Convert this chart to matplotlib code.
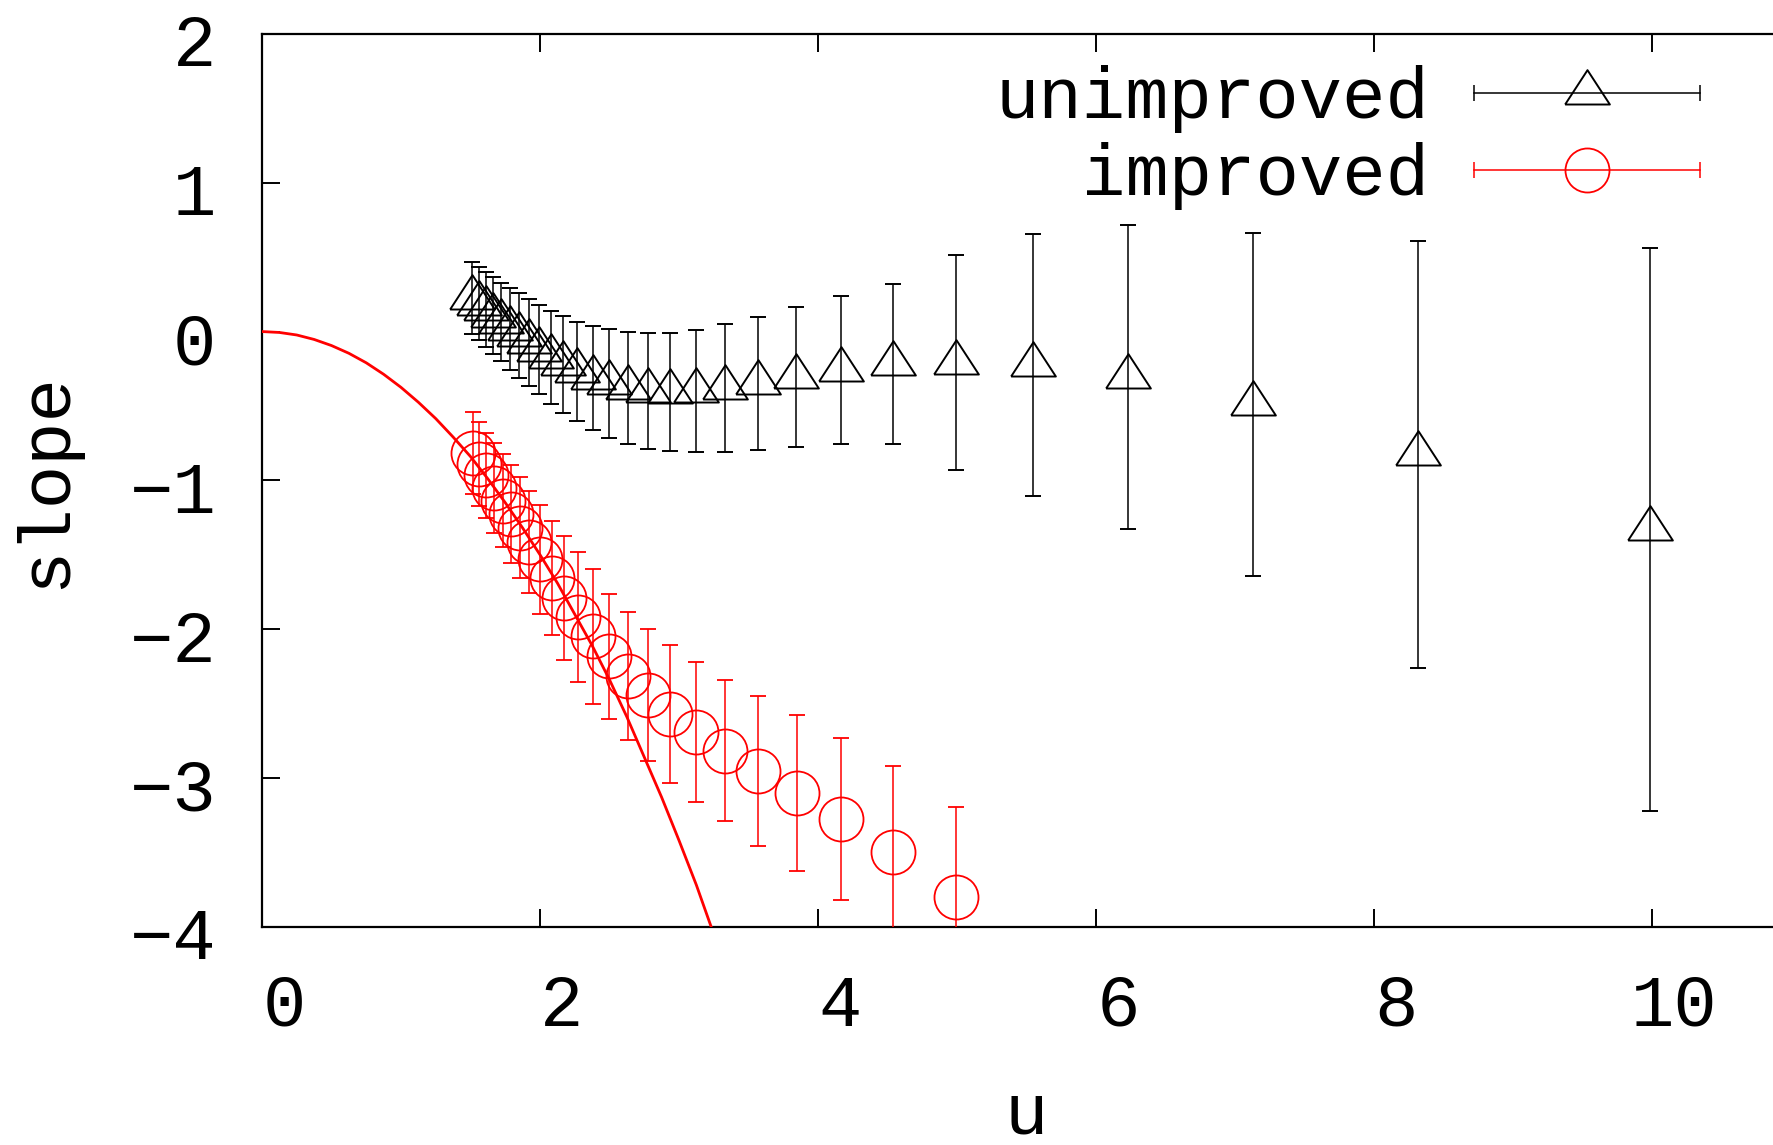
import matplotlib
matplotlib.use("Agg")
import matplotlib.pyplot as plt
import matplotlib.transforms as mtransforms
from matplotlib.lines import Line2D
from matplotlib.legend_handler import HandlerBase

# unimproved (black triangles)
u_unimp = [1.513, 1.560, 1.608, 1.660, 1.721, 1.787, 1.852, 1.924, 1.996, 2.080,
           2.168, 2.263, 2.383, 2.498, 2.630, 2.778, 2.936, 3.123, 3.331, 3.566,
           3.844, 4.162, 4.539, 4.991, 5.549, 6.233, 7.127, 8.320, 9.985]
s_unimp = [0.224, 0.187, 0.150, 0.107, 0.065, 0.016, -0.026, -0.073, -0.122, -0.173,
           -0.221, -0.268, -0.312, -0.349, -0.380, -0.399, -0.406, -0.401, -0.380, -0.347,
           -0.305, -0.258, -0.218, -0.209, -0.224, -0.307, -0.490, -0.825, -1.330]
e_unimp = [0.241, 0.245, 0.252, 0.258, 0.262, 0.275, 0.284, 0.293, 0.300, 0.314,
           0.326, 0.335, 0.347, 0.364, 0.376, 0.388, 0.397, 0.410, 0.429, 0.448,
           0.472, 0.499, 0.536, 0.722, 0.878, 1.023, 1.152, 1.433, 1.893]

# improved (red circles)
u_imp = [1.517, 1.560, 1.613, 1.668, 1.732, 1.793, 1.859, 1.924, 2.003, 2.087,
         2.175, 2.271, 2.378, 2.497, 2.635, 2.776, 2.936, 3.123, 3.329, 3.568,
         3.846, 4.162, 4.537, 4.994]
s_imp = [-0.817, -0.888, -0.966, -1.051, -1.136, -1.226, -1.319, -1.414, -1.531, -1.655,
         -1.789, -1.920, -2.048, -2.183, -2.315, -2.441, -2.570, -2.691, -2.816, -2.953,
         -3.101, -3.276, -3.499, -3.802]
e_imp = [0.274, 0.282, 0.287, 0.300, 0.314, 0.331, 0.339, 0.343, 0.364, 0.384,
         0.418, 0.437, 0.455, 0.420, 0.430, 0.443, 0.462, 0.473, 0.475, 0.506,
         0.522, 0.546, 0.578, 0.607]

# red solid curve
curve_u = [0.0, 0.125, 0.25, 0.375, 0.5, 0.625, 0.75, 0.875, 1.0, 1.125, 1.25, 1.375,
           1.5, 1.625, 1.75, 1.875, 2.0, 2.125, 2.25, 2.375, 2.5, 2.625, 2.75, 2.875,
           3.0, 3.125, 3.25, 3.35]
curve_s = [0.0, -0.006, -0.023, -0.053, -0.094, -0.146, -0.21, -0.287, -0.375, -0.475,
           -0.585, -0.709, -0.84, -0.99, -1.15, -1.32, -1.50, -1.69, -1.90, -2.11,
           -2.34, -2.59, -2.86, -3.13, -3.42, -3.72, -4.05, -4.30]

xticks = [0, 2, 4, 6, 8, 10]
yticks = [-4, -3, -2, -1, 0, 1, 2]

plt.rcParams['font.family'] = ['Liberation Mono', 'DejaVu Sans']
FS = 52

# gnuplot style triangle, centre below the apex
tri = [(-0.959, -0.472), (0.959, -0.472), (0.0, 1.0), (-0.959, -0.472)]


class GnuKey(HandlerBase):
    # horizontal bar with end caps and the point in the middle
    def create_artists(self, legend, orig_handle, xdescent, ydescent,
                       width, height, fontsize, trans):
        y = height / 2 - ydescent
        x0, x1 = -xdescent, width - xdescent
        c = orig_handle.get_color()
        bar = Line2D([x0, x1], [y, y], color=c, lw=1.1)
        caps = Line2D([x0, x1], [y, y], ls='none', marker='|', ms=12, mew=1.1, color=c)
        mk = Line2D([(x0 + x1) / 2], [y], ls='none', marker=orig_handle.get_marker(),
                    ms=orig_handle.get_markersize(), mfc='none', mec=c,
                    mew=orig_handle.get_markeredgewidth())
        for a in (bar, caps, mk):
            a.set_transform(trans)
        return [bar, caps, mk]


fig = plt.figure(figsize=(17.74, 11.45), dpi=100)
ax = fig.add_axes([262 / 1774, 218.3 / 1145, 1529 / 1774, 892.7 / 1145])

ax.errorbar(u_unimp, s_unimp, yerr=e_unimp, ls='none', marker=tri, ms=33.6,
            mfc='none', mec='black', mew=1.4, ecolor='black', elinewidth=1.1,
            capsize=6, capthick=1.1, zorder=3)
ax.errorbar(u_imp, s_imp, yerr=e_imp, ls='none', marker='o', ms=31.7,
            mfc='none', mec='red', mew=1.3, ecolor='red', elinewidth=1.1,
            capsize=6, capthick=1.1, zorder=3)
ax.plot(curve_u, curve_s, color='red', lw=2.0, zorder=4)

ax.set_xlim(0, 11)
ax.set_ylim(-4, 2)
ax.set_xticks(xticks)
ax.set_yticks(yticks)
ax.tick_params(which='both', direction='in', top=True, right=True,
               length=13, width=1.4, labelsize=FS, pad=33)
for sp in ax.spines.values():
    sp.set_linewidth(1.6)

dx = mtransforms.ScaledTranslation(0.22, 0, fig.dpi_scale_trans)
for t in ax.xaxis.get_major_ticks():
    t.label1.set_transform(t.label1.get_transform() + dx)
dy = mtransforms.ScaledTranslation(0, -0.06, fig.dpi_scale_trans)
for t in ax.yaxis.get_major_ticks():
    t.label1.set_transform(t.label1.get_transform() + dy)

ax.set_xlabel('u', fontsize=FS)
ax.set_ylabel('slope', fontsize=FS)
ax.xaxis.set_label_coords(0.5, -0.172)
ax.yaxis.set_label_coords(-0.119, 0.5)

h1 = Line2D([], [], color='black', marker=tri, ms=33.6, mew=1.4)
h2 = Line2D([], [], color='red', marker='o', ms=31.7, mew=1.3)
ax.legend([h1, h2], ['unimproved', 'improved'], handler_map={Line2D: GnuKey()},
          loc='upper right', bbox_to_anchor=(0.9405, 0.9655), frameon=False,
          borderpad=0, borderaxespad=0, markerfirst=False, fontsize=FS,
          handlelength=3.13, handletextpad=0.62, labelspacing=0.13)

fig.savefig('out.png', dpi=100)
